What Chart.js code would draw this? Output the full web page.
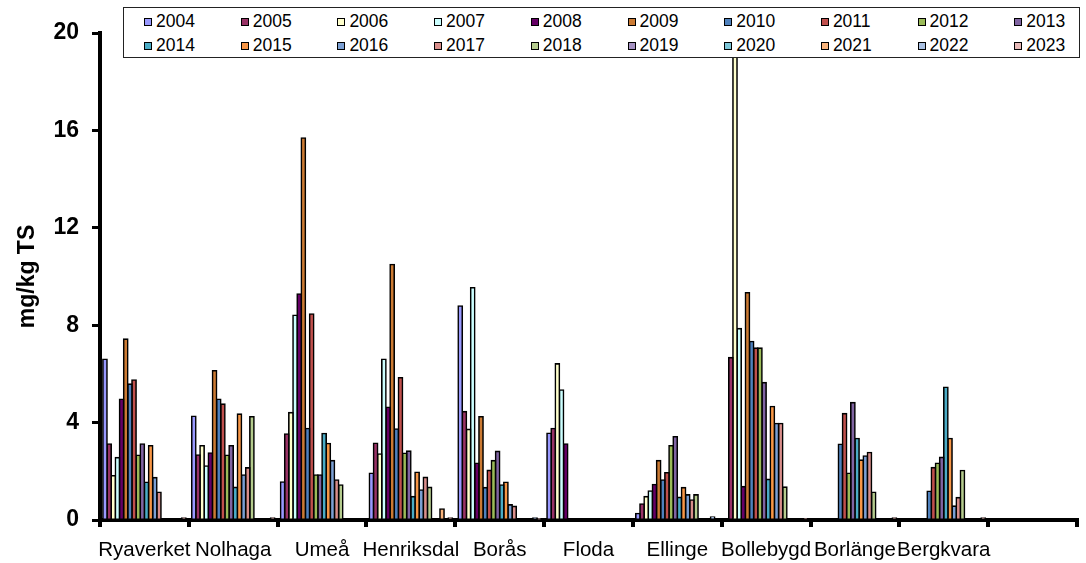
<!DOCTYPE html>
<html>
<head>
<meta charset="utf-8">
<script src="https://cdn.jsdelivr.net/npm/chart.js@4/dist/chart.umd.min.js"></script>
<style>
  body { margin: 0; background: #fff; }
  #wrap { position: relative; width: 1086px; height: 563px; }
  #chart { position: absolute; left: 0; top: 0; }
  #legend {
    position: absolute; left: 123px; top: 7px; width: 957px; height: 51px;
    border: 1px solid #222; background: #fff; box-sizing: border-box;
    font-family: "Liberation Sans", Arial, sans-serif; font-size: 17.5px; color: #000;
  }
  .item { position: absolute; white-space: nowrap; line-height: 20px; }
  .sw { display: inline-block; width: 6px; height: 6px; border: 1.5px solid #000; margin-right: 4px; vertical-align: 1px; }
</style>
</head>
<body>
<div id="wrap">
  <canvas id="chart" width="1086" height="563"></canvas>
  <div id="legend"></div>
</div>
<script>
// sites on the x axis (last slot is empty)
const sites = ['Ryaverket', 'Nolhaga', 'Umeå', 'Henriksdal', 'Borås', 'Floda', 'Ellinge', 'Bollebygd', 'Borlänge', 'Bergkvara', ''];

const years = ['2004', '2005', '2006', '2007', '2008', '2009', '2010', '2011', '2012', '2013',
               '2014', '2015', '2016', '2017', '2018', '2019', '2020', '2021', '2022', '2023'];

const colors = ['#9999FF', '#993366', '#FFFFCC', '#CCFFFF', '#660066', '#CB7A33', '#4F81BD', '#C0504D', '#9BBB59', '#8064A2',
                '#4BACC6', '#F79646', '#7BA0D4', '#D98E8B', '#B5CC8E', '#A592C2', '#7DC6D8', '#F9B47C', '#A9C0E2', '#E7B9B8'];

// mg/kg TS per site, 2004..2023
const ryaverket  = [6.6, 3.12, 1.82, 2.56, 4.96, 7.43, 5.58, 5.75, 2.66, 3.12, 1.55, 3.05, 1.74, 1.14, 0, 0, 0, 0, 0, 0.08];
const nolhaga    = [4.26, 2.67, 3.05, 2.22, 2.75, 6.13, 4.96, 4.76, 2.66, 3.05, 1.34, 4.35, 1.85, 2.14, 4.24, 0, 0, 0, 0, 0.08];
const umea       = [1.56, 3.53, 4.41, 8.41, 9.28, 15.69, 3.76, 8.46, 1.85, 1.85, 3.55, 3.14, 2.44, 1.64, 1.44, 0, 0, 0, 0, 0];
const henriksdal = [1.92, 3.15, 2.71, 6.6, 4.63, 10.49, 3.74, 5.84, 2.74, 2.83, 0.96, 1.96, 1.23, 1.75, 1.34, 0, 0, 0.45, 0, 0.08];
const boras      = [8.79, 4.45, 3.72, 9.54, 2.33, 4.24, 1.33, 2.04, 2.44, 2.82, 1.44, 1.55, 0.62, 0.56, 0, 0, 0, 0, 0.08, 0.05];
const floda      = [3.56, 3.76, 6.41, 5.34, 3.12, 0, 0, 0, 0, 0, 0, 0, 0, 0, 0, 0, 0, 0, 0, 0];
const ellinge    = [0.27, 0.66, 0.96, 1.19, 1.46, 2.44, 1.64, 1.94, 3.05, 3.42, 0.93, 1.33, 1.03, 0.82, 1.03, 0, 0, 0, 0.12, 0];
const bollebygd  = [0, 6.67, 19.6, 7.86, 1.37, 9.33, 7.33, 7.06, 7.06, 5.64, 1.67, 4.66, 3.96, 3.96, 1.35, 0, 0, 0, 0, 0.06];
const borlange   = [0, 0, 0, 0, 0, 0, 3.11, 4.37, 1.92, 4.82, 3.35, 2.46, 2.63, 2.77, 1.14, 0, 0, 0, 0, 0.08];
const bergkvara  = [0, 0, 0, 0, 0, 0, 1.18, 2.15, 2.33, 2.57, 5.45, 3.35, 0.57, 0.92, 2.03, 0, 0, 0, 0, 0.08];
const emptySite  = [0, 0, 0, 0, 0, 0, 0, 0, 0, 0, 0, 0, 0, 0, 0, 0, 0, 0, 0, 0];

const yTicks = [0, 4, 8, 12, 16, 20];

const siteValues = [ryaverket, nolhaga, umea, henriksdal, boras, floda, ellinge, bollebygd, borlange, bergkvara, emptySite];

// zero means no bar at all (otherwise the inflated outline shows on the axis)
const datasets = years.map((y, i) => ({
    label: y,
    data: siteValues.map(s => s[i] === 0 ? null : s[i]),
    backgroundColor: colors[i],
    borderColor: '#000',
    borderWidth: 1.6,
    inflateAmount: 0.8,
    categoryPercentage: 0.935,
    barPercentage: 1
}));

const font = "'Liberation Sans', Arial, sans-serif";

new Chart(document.getElementById('chart'), {
    type: 'bar',
    data: { labels: sites, datasets: datasets },
    options: {
        responsive: false,
        animation: false,
        devicePixelRatio: 1,
        layout: { padding: { top: 33, right: 9, left: 0, bottom: 0 } },
        plugins: { legend: { display: false }, tooltip: { enabled: false } },
        scales: {
            x: {
                grid: { display: true, drawOnChartArea: false, offset: true, tickLength: 7, lineWidth: 4, color: '#000' },
                border: { display: true, color: '#000', width: 4 },
                ticks: { color: '#000', font: { family: font, size: 20.5 }, padding: 11, maxRotation: 0, autoSkip: false },
                afterFit: s => { s.height = 43; }
            },
            y: {
                min: 0,
                max: 20,
                afterBuildTicks: s => { s.ticks = yTicks.map(v => ({ value: v })); },
                grid: { display: true, drawOnChartArea: false, tickLength: 8, lineWidth: 3, color: '#000' },
                border: { display: true, color: '#000', width: 4 },
                ticks: { color: '#000', font: { family: font, size: 23, weight: 'bold' }, padding: 13 },
                title: { display: true, text: 'mg/kg TS', color: '#000', font: { family: font, size: 23, weight: 'bold' }, padding: { top: 14, bottom: 0 } },
                afterFit: s => { s.width = 100; }
            }
        }
    }
});

// legend drawn as html over the plot, like the original
const legend = document.getElementById('legend');
years.forEach((y, i) => {
    const el = document.createElement('div');
    el.className = 'item';
    el.style.left = (20 + (i % 10) * 96.7) + 'px';
    el.style.top = (i < 10 ? 3 : 27) + 'px';
    el.innerHTML = '<span class="sw" style="background:' + colors[i] + '"></span>' + y;
    legend.appendChild(el);
});
</script>
</body>
</html>
